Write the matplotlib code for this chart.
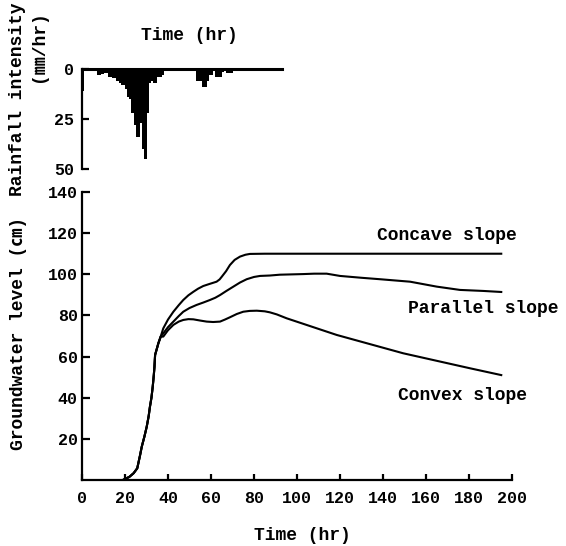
import matplotlib
matplotlib.use('Agg')
from matplotlib import pyplot as plt

plt.rcParams['font.family'] = ['Liberation Mono', 'Noto Sans CJK JP']
plt.rcParams['font.weight'] = 'bold'

# hourly rainfall (mm/hr), hour h covers [h, h+1)
rain_hr = list(range(0, 71))
rain_mm = [11, 0, 0, 0, 0, 0, 0, 3, 3, 2.5,
           2, 2, 4, 4, 4.5, 4.5, 6, 7, 8, 8,
           10, 14, 15, 22, 28, 34, 34, 27, 40, 45,
           22, 7, 6, 7, 7, 4, 4, 3, 1, 0,
           0, 0, 0, 0, 0, 0, 0, 0, 0, 0,
           0, 0, 0, 6, 6, 6, 9, 9, 6, 3,
           3, 1, 4, 4, 4, 1.5, 1, 2, 2, 2,
           1]

# common rising limb
rise_t = [19, 22, 24, 25.7, 27, 27.8, 29, 30.1, 31, 31.6, 32.3, 32.9,
          33.4, 33.7, 34, 35, 35.5, 36.6]
rise_h = [0, 1.5, 3.3, 5.7, 12, 16.2, 21, 25.9, 31, 35.6, 40, 45.4,
          51, 55, 60.8, 64.5, 66.4, 69.7]

concave_t = [37.8, 40, 42.5, 45, 47.1, 49.5, 51.8, 54, 56.4, 59, 62.6, 64,
             65, 67, 68.8, 71, 73.5, 76, 78.1, 85, 195]
concave_h = [73.7, 78, 81.8, 85, 87.5, 89.8, 91.5, 93, 94.3, 95.2, 96.4, 97.5,
             98.8, 101.5, 104.5, 107, 108.6, 109.5, 109.9, 110, 110]

parallel_t = [37.8, 40, 42.5, 45, 47.1, 50, 53.3, 56.5, 59.5, 62, 64.2, 67,
              70.4, 73.5, 76.6, 80, 82.8, 87.4, 92, 102.9, 108, 113.8, 120,
              130, 138.6, 152.6, 165, 175.8, 186.7, 195]
parallel_h = [71.3, 74.3, 77, 79.7, 81.8, 83.6, 85.1, 86.3, 87.5, 88.6, 89.9, 91.8,
              94, 96, 97.6, 98.7, 99.2, 99.4, 99.8, 100.1, 100.3, 100.3, 99.2,
              98.3, 97.6, 96.4, 94, 92.4, 91.9, 91.4]

convex_t = [37.8, 40, 42.5, 45, 47.1, 49.5, 51.8, 55, 58, 61, 64.2, 66.5,
            68.8, 72, 75, 78, 81.3, 85, 87.4, 90.6, 95.2, 118.5, 149.4, 180.5, 195]
convex_h = [69.7, 72.8, 75.4, 77, 77.8, 78.2, 78.1, 77.5, 77, 76.8, 77, 78,
            79.1, 80.7, 81.8, 82.2, 82.3, 82, 81.5, 80.5, 78.6, 70.5, 61.6, 54.3, 51]

labels = ['Concave slope', 'Parallel slope', 'Convex slope']
label_xy = [(137, 119), (151.5, 83.6), (147, 41.3)]

W, H = 566, 546
fig = plt.figure(figsize=(W / 100, H / 100), dpi=100)

# ---- main groundwater plot
ax = fig.add_axes([82 / W, 1 - 480 / H, 430 / W, 288 / H])
for t, h in [(concave_t, concave_h), (parallel_t, parallel_h), (convex_t, convex_h)]:
    ax.plot(rise_t + t, rise_h + h, color='black', linewidth=1.5,
            solid_joinstyle='round')
for txt, (x, y) in zip(labels, label_xy):
    ax.text(x, y, txt, fontsize=13, ha='left', va='center')

ax.set_xlim(0, 200)
ax.set_ylim(0, 140)
ax.set_xticks(range(0, 201, 20))
ax.set_yticks(range(20, 141, 20))
for s in ['top', 'right']:
    ax.spines[s].set_visible(False)
for s in ['left', 'bottom']:
    ax.spines[s].set_linewidth(1.6)
ax.tick_params(axis='y', direction='in', length=6, width=1.6, labelsize=12, pad=3)
ax.tick_params(axis='x', direction='in', length=4, width=1.6, labelsize=12, pad=8)

# ---- rainfall hyetograph (hanging bars)
ax2 = fig.add_axes([82 / W, 1 - 169 / H, 200 / W, 100 / H])
ax2.bar(rain_hr, rain_mm, width=1, align='edge', color='black', linewidth=0)
ax2.set_xlim(0, 93)
ax2.set_ylim(50, 0)
ax2.set_yticks([0, 25, 50])
ax2.set_xticks([])
for s in ['bottom', 'right']:
    ax2.spines[s].set_visible(False)
ax2.spines['left'].set_linewidth(1.6)
ax2.spines['top'].set_linewidth(2.2)
ax2.tick_params(axis='y', direction='in', length=5, width=1.6, labelsize=12, pad=6)

# ---- texts
fig.text(189 / W, 1 - 35 / H, 'Time (hr)', fontsize=13, ha='center', va='center')
fig.text(302 / W, 1 - 535 / H, 'Time (hr)', fontsize=13, ha='center', va='center')
fig.text(17.5 / W, 1 - 3 / H, 'Rainfall intensity', fontsize=13, rotation=90,
         ha='center', va='top')
fig.text(38 / W, 1 - 10 / H, '(㎜/hr)', fontsize=13, rotation=90,
         ha='center', va='top')
fig.text(19 / W, 1 - 333 / H, 'Groundwater level (㎝)', fontsize=13, rotation=90,
         ha='center', va='center')

fig.savefig('out.png', dpi=100)
